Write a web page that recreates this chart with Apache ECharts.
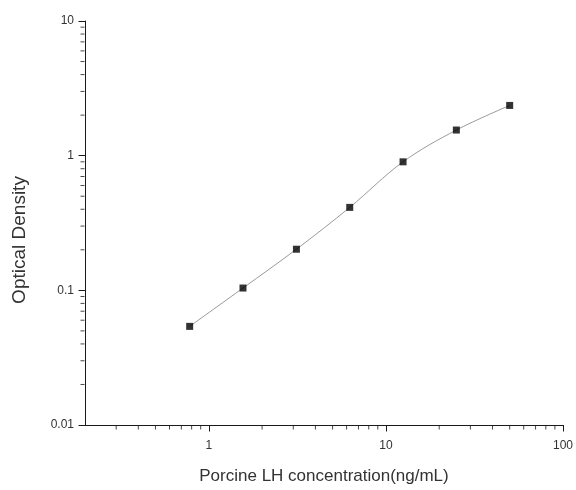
<!DOCTYPE html>
<html>
<head>
<meta charset="utf-8">
<script src="https://cdn.jsdelivr.net/npm/echarts@6/dist/echarts.min.js"></script>
<style>
html,body{margin:0;padding:0;background:#fff;}
#chart{width:576px;height:490px;}
</style>
</head>
<body>
<div id="chart"></div>
<script>
// Data
var concentrations = [0.78, 1.56, 3.125, 6.25, 12.5, 25, 50];
var odValues = [0.054, 0.104, 0.202, 0.413, 0.90, 1.55, 2.36];

// Axis ticks
var xMajorTicks = [1, 10, 100];
var xMinorTicks = [0.3, 0.4, 0.5, 0.6, 0.7, 0.8, 0.9,
                   2, 3, 4, 5, 6, 7, 8, 9,
                   20, 30, 40, 50, 60, 70, 80, 90];
var yMajorTicks = [0.01, 0.1, 1, 10];
var yMinorTicks = [0.02, 0.03, 0.04, 0.05, 0.06, 0.07, 0.08, 0.09,
                   0.2, 0.3, 0.4, 0.5, 0.6, 0.7, 0.8, 0.9,
                   2, 3, 4, 5, 6, 7, 8, 9];
var xTitle = 'Porcine LH concentration(ng/mL)';
var yTitle = 'Optical Density';

var X_MIN = 0.2, X_MAX = 100, Y_MIN = 0.01, Y_MAX = 10;

var FONT = '"Liberation Sans", Arial, sans-serif';
var AX = '#1a1a1a';
var TXT = '#333';

var points = concentrations.map(function (c, i) { return [c, odValues[i]]; });

var chart = echarts.init(document.getElementById('chart'), null, {renderer: 'canvas'});

var option = {
  backgroundColor: '#fff',
  animation: false,
  grid: {left: 85, right: 11, top: 21, bottom: 60, containLabel: false},
  xAxis: {
    type: 'log', logBase: 10, min: X_MIN, max: X_MAX, position: 'bottom',
    axisLine: {show: true, lineStyle: {color: AX, width: 1}},
    axisTick: {show: true, customValues: xMajorTicks, length: 6.5, lineStyle: {color: AX, width: 1}},
    axisLabel: {show: true, customValues: xMajorTicks, margin: 15, fontSize: 12, color: TXT, fontFamily: FONT,
      formatter: function (v) { return String(+(+v).toPrecision(6)); }},
    splitLine: {show: false},
    name: xTitle, nameLocation: 'middle', nameGap: 43,
    nameTextStyle: {fontSize: 17, color: TXT, fontFamily: FONT}
  },
  yAxis: {
    type: 'log', logBase: 10, min: Y_MIN, max: Y_MAX, position: 'left',
    axisLine: {show: true, lineStyle: {color: AX, width: 1}},
    axisTick: {show: true, customValues: yMajorTicks, length: 6.5, lineStyle: {color: AX, width: 1}},
    axisLabel: {show: true, customValues: yMajorTicks, margin: 11, fontSize: 12, color: TXT, fontFamily: FONT,
      formatter: function (v) { return String(+(+v).toPrecision(6)); }},
    splitLine: {show: false}
  },
  graphic: [{
    type: 'text',
    x: 20, y: 240,
    rotation: Math.PI / 2,
    style: {text: yTitle, fill: TXT, font: '19px ' + FONT, align: 'center', verticalAlign: 'middle'}
  }],
  series: [
    {
      // minor ticks on the x axis
      type: 'scatter', silent: true, clip: false,
      data: xMinorTicks.map(function (v) { return [v, Y_MIN]; }),
      symbol: 'rect', symbolSize: [1, 4], symbolOffset: [0, 2.5],
      itemStyle: {color: AX}, z: 1
    },
    {
      // minor ticks on the y axis
      type: 'scatter', silent: true, clip: false,
      data: yMinorTicks.map(function (v) { return [X_MIN, v]; }),
      symbol: 'rect', symbolSize: [4, 1], symbolOffset: [-2.5, 0],
      itemStyle: {color: AX}, z: 1
    },
    {
      type: 'line',
      data: points, smooth: 0.35, showSymbol: false, symbol: 'none',
      lineStyle: {color: '#9a9a9a', width: 1}, z: 2
    },
    {
      type: 'scatter',
      data: points, symbol: 'rect', symbolSize: 7,
      itemStyle: {color: '#000'}, z: 3
    }
  ]
};
chart.setOption(option);
</script>
</body>
</html>
